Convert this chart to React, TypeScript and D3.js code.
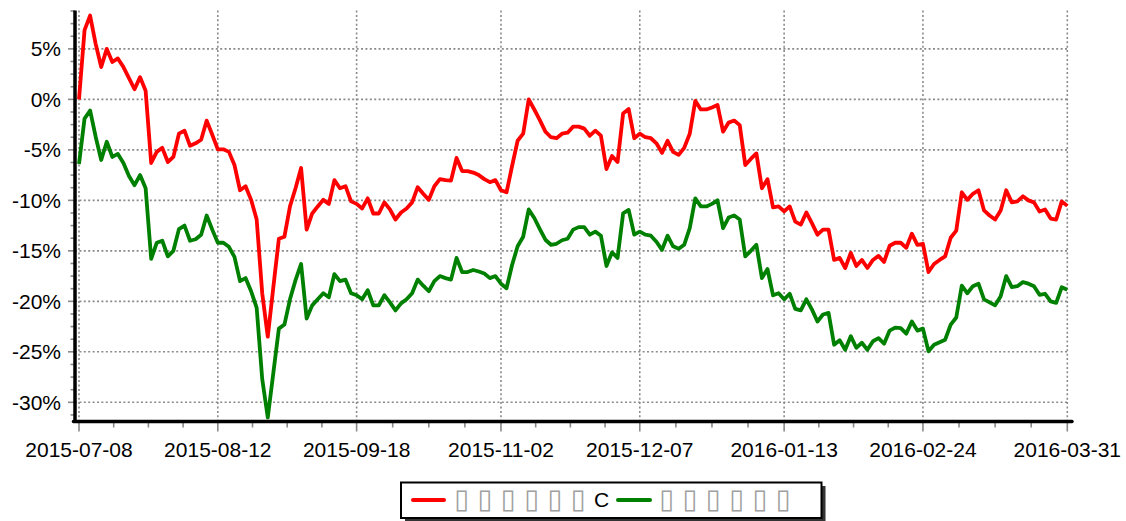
import React from "react";
import * as d3 from "d3";

// trading-day index of each labelled date on the x axis
const tickIndex = [0, 25, 50, 76, 101, 127, 152, 178];
const tickLabels = [
  "2015-07-08", "2015-08-12", "2015-09-18", "2015-11-02",
  "2015-12-07", "2016-01-13", "2016-02-24", "2016-03-31",
];
const yTicks = [5, 0, -5, -10, -15, -20, -25, -30];

// cumulative returns in %, one value per trading day
const redSeries = [
  0.0, 6.85, 8.3, 5.5, 3.2, 5.0, 3.7, 4.05, 3.2, 2.1, 1.0, 2.2, 0.85, -6.3, -5.2, -4.8, -6.2, -5.7, -3.4, -3.1,
  -4.6, -4.35, -4.0, -2.1, -3.5, -4.95, -4.95, -5.2, -6.5, -9.0, -8.6, -9.95, -11.9, -19.2, -23.5, -18.6, -13.8, -13.6, -10.6, -8.8,
  -6.8, -12.9, -11.3, -10.6, -9.95, -10.35, -8.0, -8.8, -8.6, -10.1, -10.35, -10.8, -9.8, -11.3, -11.3, -10.2, -10.9, -11.9, -11.2, -10.8,
  -10.2, -8.7, -9.35, -9.95, -8.6, -7.9, -8.0, -8.05, -5.8, -7.1, -7.1, -7.25, -7.5, -7.9, -8.2, -8.0, -9.0, -9.2, -6.6, -4.1,
  -3.4, 0.0, -1.0, -2.05, -3.2, -3.75, -3.85, -3.4, -3.3, -2.7, -2.7, -2.9, -3.6, -3.1, -3.6, -6.9, -5.6, -6.2, -1.4, -0.96,
  -3.85, -3.4, -3.75, -3.85, -4.35, -5.3, -4.1, -5.2, -5.5, -4.8, -3.4, -0.15, -1.0, -1.0, -0.8, -0.55, -3.2, -2.3, -2.1, -2.55,
  -6.5, -5.9, -5.35, -8.8, -7.9, -10.7, -10.6, -11.1, -10.6, -12.1, -12.4, -11.2, -12.25, -13.4, -12.9, -12.9, -15.9, -15.7, -16.7, -15.2,
  -16.5, -15.9, -16.7, -15.9, -15.5, -16.1, -14.5, -14.2, -14.2, -14.7, -13.3, -14.4, -14.3, -17.1, -16.3, -15.9, -15.55, -13.7, -13.0, -9.2,
  -9.95, -9.35, -9.0, -11.0, -11.5, -11.9, -11.0, -9.0, -10.2, -10.1, -9.6, -10.0, -10.2, -11.1, -10.9, -11.8, -11.9, -10.1, -10.55,
];
const greenSeries = [
  -6.4, -1.9, -1.1, -3.7, -6.0, -4.2, -5.7, -5.4, -6.3, -7.6, -8.5, -7.5, -8.8, -15.8, -14.2, -14.0, -15.55, -15.0, -12.85, -12.5,
  -14.0, -13.85, -13.4, -11.5, -12.9, -14.2, -14.2, -14.6, -15.6, -18.0, -17.7, -19.0, -20.65, -27.7, -31.5, -27.1, -22.7, -22.3, -19.8, -17.9,
  -16.3, -21.7, -20.4, -19.8, -19.2, -19.6, -17.3, -18.0, -17.85, -19.2, -19.4, -19.8, -18.9, -20.4, -20.4, -19.4, -20.1, -20.9, -20.2, -19.8,
  -19.2, -17.85, -18.45, -19.0, -18.0, -17.5, -17.7, -17.85, -15.7, -17.1, -17.1, -16.9, -17.05, -17.25, -17.7, -17.5, -18.25, -18.7, -16.4, -14.55,
  -13.6, -10.9, -11.75, -12.85, -13.9, -14.4, -14.3, -13.95, -13.8, -12.9, -12.65, -12.65, -13.4, -13.1, -13.5, -16.5, -15.15, -15.7, -11.3, -10.95,
  -13.4, -13.1, -13.4, -13.5, -14.1, -14.9, -13.5, -14.55, -14.8, -14.4, -12.75, -9.8, -10.6, -10.6, -10.35, -10.0, -12.75, -11.7, -11.5, -11.9,
  -15.55, -15.0, -14.4, -17.7, -16.8, -19.4, -19.2, -19.8, -19.25, -20.75, -20.9, -19.8, -20.8, -22.0, -21.3, -21.15, -24.3, -23.85, -24.8, -23.45,
  -24.6, -24.1, -24.8, -23.95, -23.65, -24.2, -22.9, -22.6, -22.65, -23.2, -22.0, -22.9, -22.7, -24.95, -24.3, -24.05, -23.8, -22.3, -21.6, -18.45,
  -19.2, -18.5, -18.25, -19.8, -20.1, -20.4, -19.5, -17.5, -18.6, -18.5, -18.1, -18.25, -18.5, -19.35, -19.25, -20.0, -20.15, -18.6, -18.85,
];

// legend glyphs (the original labels came out as missing-glyph boxes)
const legendRed = ["▯", "▯", "▯", "▯", "▯", "▯", "C"];
const legendGreen = ["▯", "▯", "▯", "▯", "▯", "▯"];

const W = 1126;
const H = 521;
const FONT = "'Liberation Sans', Arial, sans-serif";
const BOX_FONT = "'DejaVu Sans', sans-serif";

const x = d3.scaleLinear().domain([0, redSeries.length - 1]).range([79, 1067.3]);
const y = d3.scaleLinear().domain([-31.9, 8.8]).range([421.5, 10.5]);

const line = d3
  .line<number>()
  .x((_, i) => x(i))
  .y((d) => y(d));

// minor ticks: four steps between labelled ones
const xMinor: number[] = [];
for (let k = 0; k < tickIndex.length - 1; k++) {
  for (let j = 1; j < 4; j++) xMinor.push(tickIndex[k] + ((tickIndex[k + 1] - tickIndex[k]) * j) / 4);
}
const yMinor = d3.range(-31.25, 8.8, 1.25).filter((v) => Math.abs(v % 5) > 0.01);

const gridColor = "#8a8a8a";

export default function App() {
  const left = x.range()[0] - 4;
  const bottom = y.range()[0];
  const right = 1072;
  const top = y.range()[1];

  return (
    <div style={{ position: "fixed", left: 0, top: 0 }}>
      <svg width={W} height={H} style={{ display: "block", background: "#fff" }} fontFamily={FONT}>
        {/* grid */}
        {yTicks.map((v) => (
          <line key={"gy" + v} x1={left} x2={right - 4} y1={y(v)} y2={y(v)}
            stroke={gridColor} strokeWidth={1.6} strokeDasharray="2,2.4" />
        ))}
        {tickIndex.map((t) => (
          <line key={"gx" + t} x1={x(t)} x2={x(t)} y1={top} y2={bottom}
            stroke={gridColor} strokeWidth={1.6} strokeDasharray="2,2.4" />
        ))}

        {/* y ticks */}
        {yTicks.map((v) => (
          <line key={"ty" + v} x1={left - 7} x2={left} y1={y(v)} y2={y(v)} stroke={gridColor} strokeWidth={1.6} />
        ))}
        {yMinor.map((v) => (
          <line key={"my" + v} x1={left - 4.5} x2={left} y1={y(v)} y2={y(v)} stroke={gridColor} strokeWidth={1.6} />
        ))}
        {yTicks.map((v) => (
          <text key={"ly" + v} x={61} y={y(v)} dy="0.36em" textAnchor="end" fontSize={21} fill="#000">
            {v + "%"}
          </text>
        ))}

        {/* x ticks */}
        {tickIndex.map((t) => (
          <line key={"tx" + t} x1={x(t)} x2={x(t)} y1={bottom} y2={bottom + 10} stroke={gridColor} strokeWidth={1.6} />
        ))}
        {xMinor.map((t) => (
          <line key={"mx" + t} x1={x(t)} x2={x(t)} y1={bottom} y2={bottom + 6} stroke={gridColor} strokeWidth={1.6} />
        ))}
        {tickIndex.map((t, k) => (
          <text key={"lx" + t} x={x(t)} y={456.5} textAnchor="middle" fontSize={21} fill="#000">
            {tickLabels[k]}
          </text>
        ))}

        {/* series */}
        <path d={line(greenSeries) || ""} fill="none" stroke="#008000" strokeWidth={3.8} strokeLinejoin="round" />
        <path d={line(redSeries) || ""} fill="none" stroke="#ff0000" strokeWidth={3.8} strokeLinejoin="round" />

        {/* axes */}
        <line x1={left} x2={left} y1={top} y2={bottom + 1.5} stroke="#000" strokeWidth={3.5} />
        <line x1={left - 1.5} x2={right} y1={bottom} y2={bottom} stroke="#000" strokeWidth={3.5} strokeLinecap="round" />

        {/* legend */}
        <g>
          <rect x={405} y={486} width={420.5} height={35.5} fill="#333" />
          <rect x={401} y={482.5} width={420.5} height={35.5} fill="#fff" stroke="#000" strokeWidth={2} />
          <line x1={413} x2={444} y1={500} y2={500} stroke="#ff0000" strokeWidth={4} strokeLinecap="round" />
          {legendRed.map((c, k) => (
            <text key={"lr" + k} x={461.7 + k * 23.3} y={c === "C" ? 506.5 : 508}
              textAnchor="middle"
              fontSize={c === "C" ? 21 : 27} fill={c === "C" ? "#000" : "#a0a0a0"}
              fontFamily={c === "C" ? FONT : BOX_FONT}>
              {c}
            </text>
          ))}
          <line x1={618} x2={650} y1={500} y2={500} stroke="#008000" strokeWidth={4} strokeLinecap="round" />
          {legendGreen.map((c, k) => (
            <text key={"lg" + k} x={666.7 + k * 23.3} y={508} textAnchor="middle"
              fontSize={27} fill="#a0a0a0" fontFamily={BOX_FONT}>
              {c}
            </text>
          ))}
        </g>
      </svg>
    </div>
  );
}
